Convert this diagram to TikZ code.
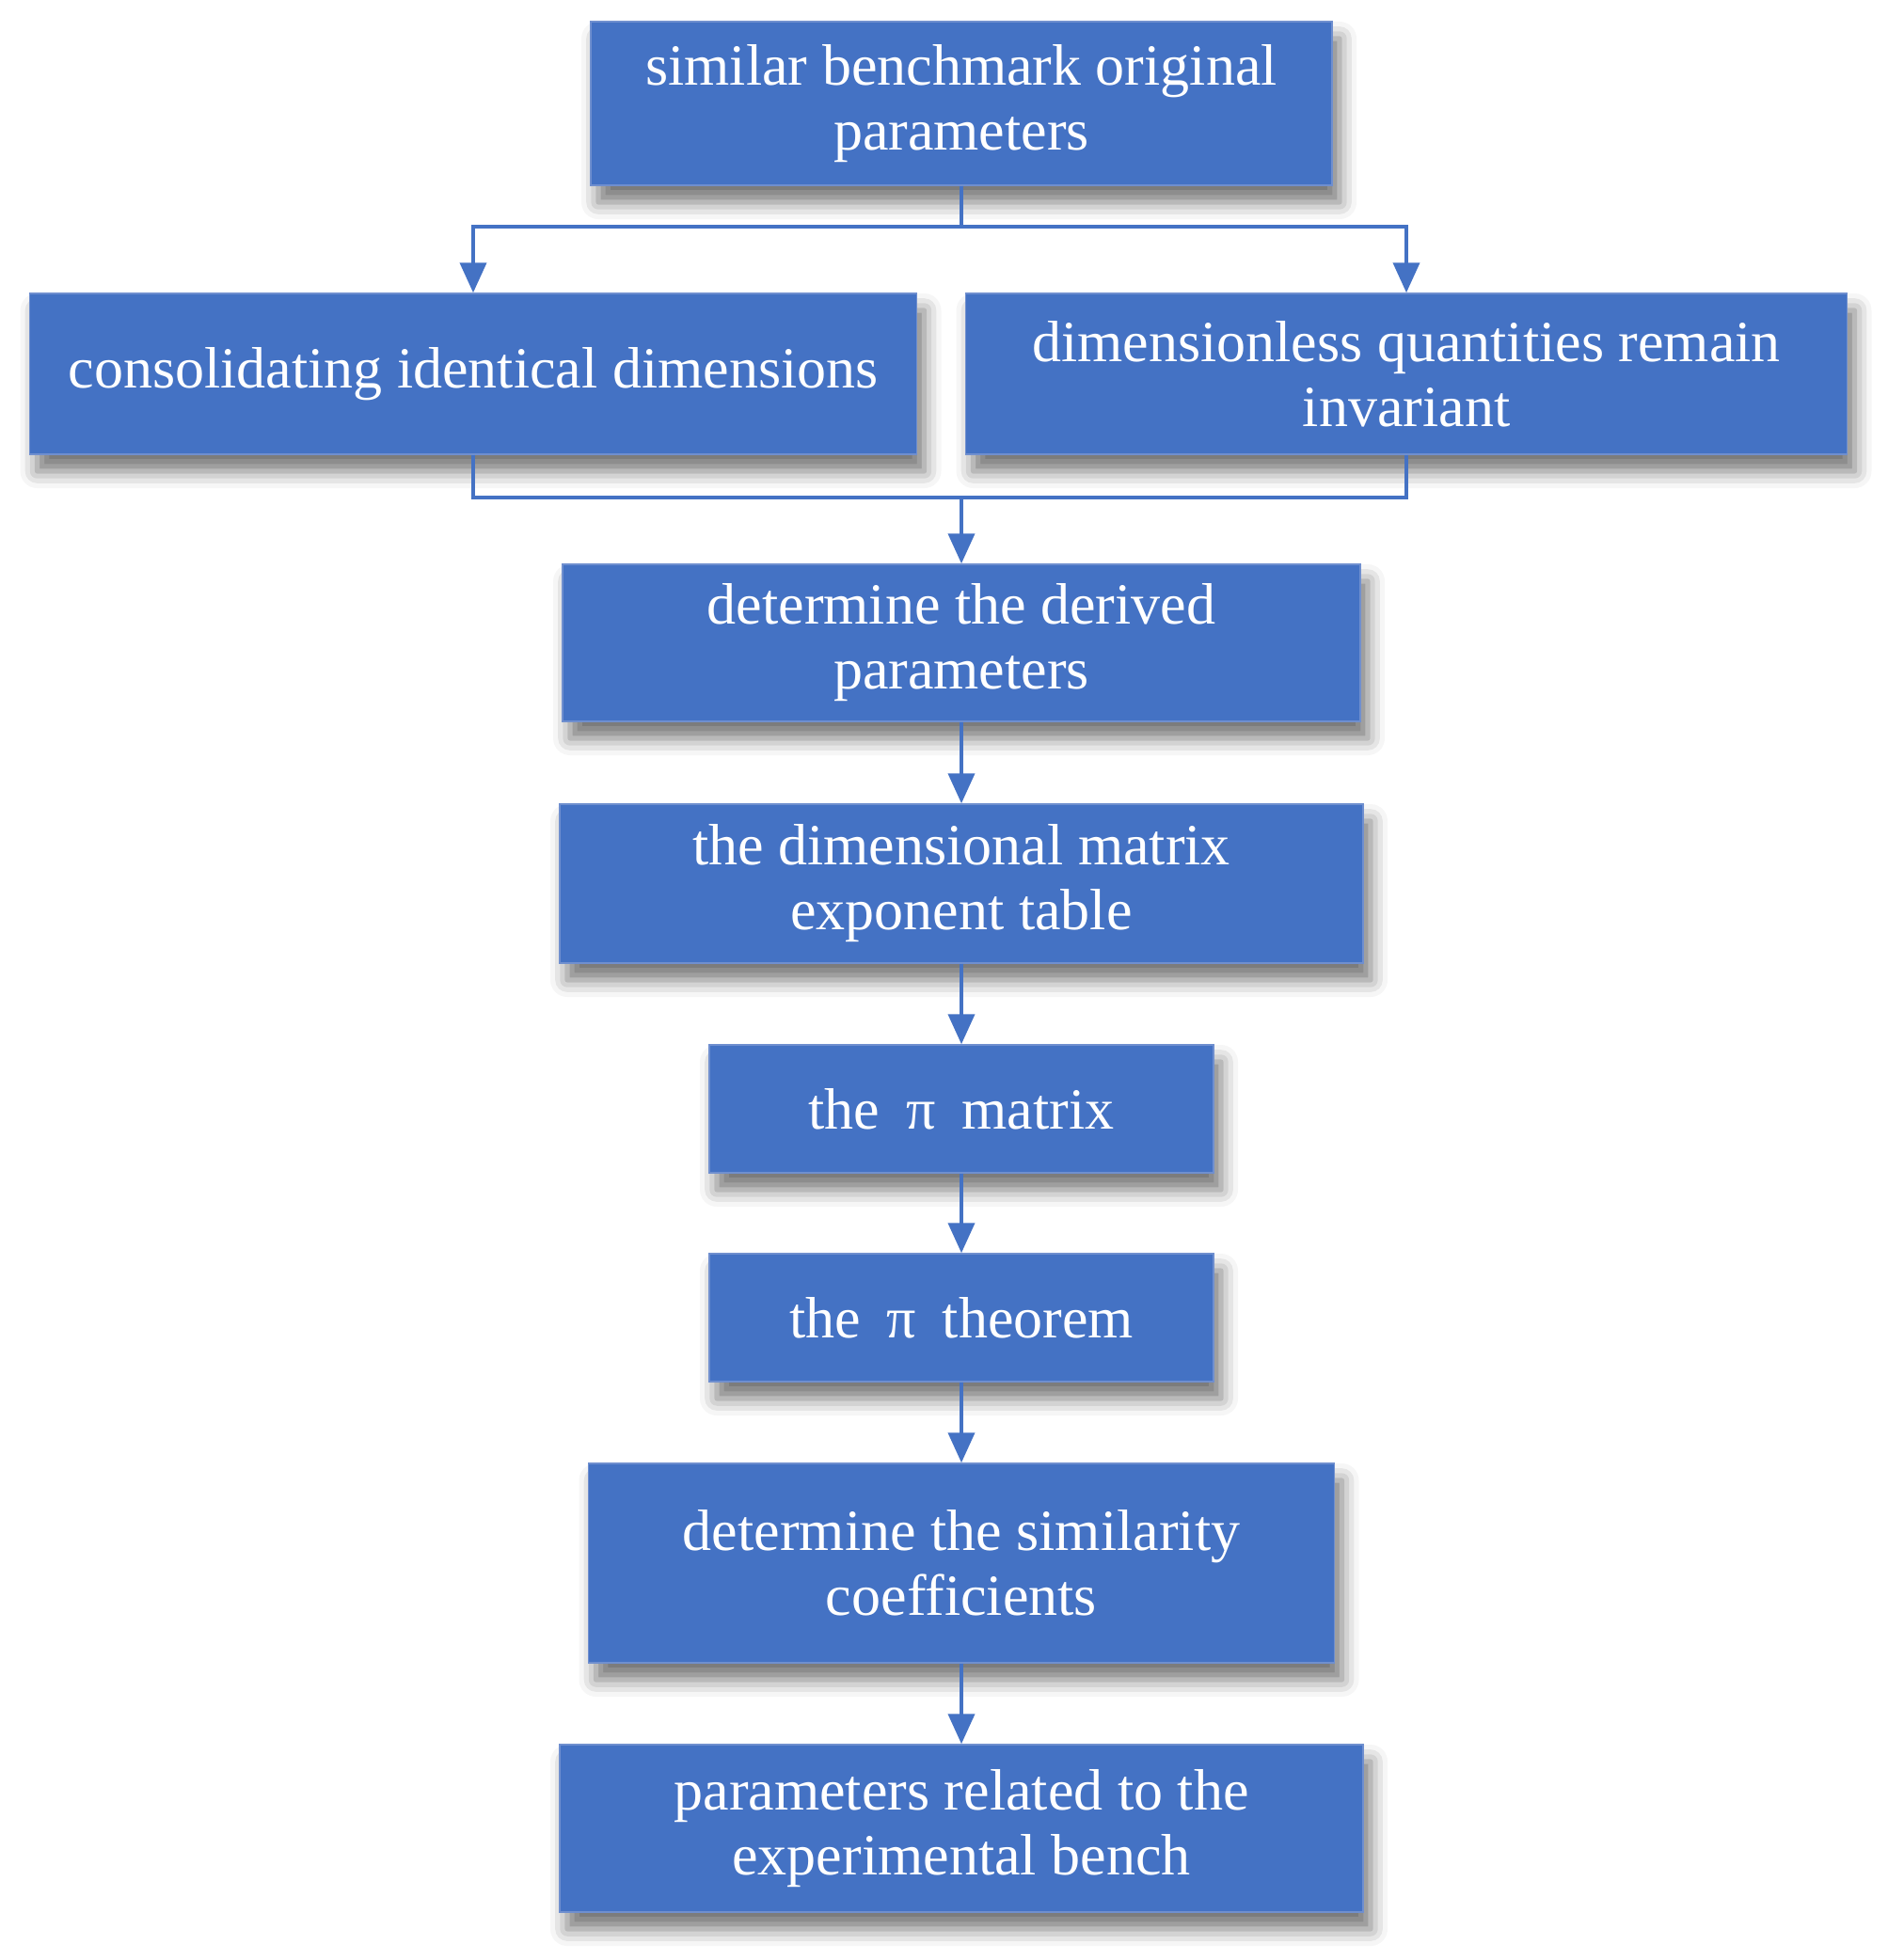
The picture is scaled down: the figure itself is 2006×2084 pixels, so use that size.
\documentclass[tikz,border=0pt]{standalone}
\usepackage{fontspec}
\setmainfont{Liberation Serif}
\usetikzlibrary{arrows.meta,shadows.blur}
\definecolor{boxblue}{HTML}{4472C4}
\definecolor{boxedge}{HTML}{6F8FCF}
\tikzset{
  box/.style={rectangle, fill=boxblue, draw=boxedge, line width=1.5pt, text=white,
    align=center, inner sep=0pt, font=\fontsize{62}{69}\selectfont,
    blur shadow={shadow xshift=8pt, shadow yshift=-18pt, shadow blur radius=18pt, shadow opacity=55}},
  conn/.style={draw=boxblue, line width=4pt},
  arr/.style={conn, -{Triangle[length=32pt,width=28pt]}}
}
\begin{document}
\begin{tikzpicture}[x=1pt,y=1pt]
\useasboundingbox (0,0) rectangle (2006,-2084);
\node[box, minimum width=788, minimum height=174] (top) at (1022,-110) {similar benchmark original\\parameters};
\node[box, minimum width=943, minimum height=171] (left) at (503,-397.5) {consolidating identical dimensions};
\node[box, minimum width=937, minimum height=171] (right) at (1495,-397.5) {dimensionless quantities remain\\invariant};
\node[box, minimum width=848, minimum height=167] (derived) at (1022,-683.5) {determine the derived\\parameters};
\node[box, minimum width=854, minimum height=169] (matrix) at (1022,-939.5) {the dimensional matrix\\exponent table};
\node[box, minimum width=536, minimum height=136] (pim) at (1022,-1179) {the\hspace{0.45em}π\hspace{0.45em}matrix};
\node[box, minimum width=536, minimum height=136] (pit) at (1022,-1401) {the\hspace{0.45em}π\hspace{0.45em}theorem};
\node[box, minimum width=793, minimum height=212] (sim) at (1022,-1662) {determine the similarity\\coefficients};
\node[box, minimum width=854, minimum height=178] (bench) at (1022,-1944) {parameters related to the\\experimental bench};
\coordinate (j1) at (1022,-241);
\coordinate (j2) at (1022,-529);
\draw[conn] (top.south) -- (j1);
\draw[arr] (j1) -| (left.north);
\draw[arr] (j1) -| (right.north);
\draw[conn] (left.south) |- (j2);
\draw[conn] (right.south) |- (j2);
\draw[arr] (j2) -- (derived.north);
\draw[arr] (derived.south) -- (matrix.north);
\draw[arr] (matrix.south) -- (pim.north);
\draw[arr] (pim.south) -- (pit.north);
\draw[arr] (pit.south) -- (sim.north);
\draw[arr] (sim.south) -- (bench.north);
\end{tikzpicture}
\end{document}
